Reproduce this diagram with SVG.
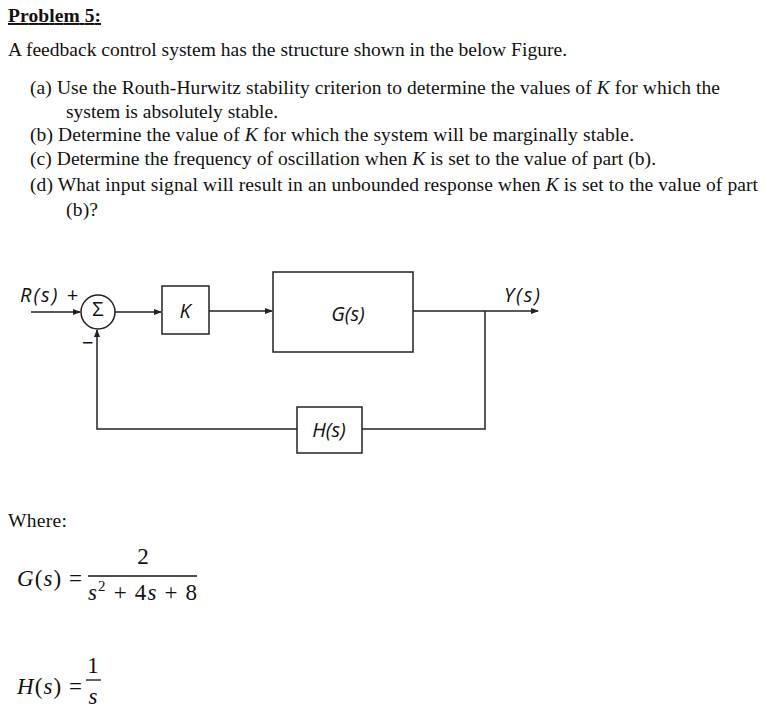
<svg xmlns="http://www.w3.org/2000/svg" width="765" height="709" viewBox="0 0 765 709">
<style>
.t{font-family:"Liberation Serif",serif;font-size:19.5px;fill:#111}
.d{font-family:"Open Sans","Liberation Sans",sans-serif;font-size:20px;fill:#111}
.m{font-family:"Liberation Serif",serif;font-size:23px;fill:#111}
.b{fill:#fff;stroke:#222;stroke-width:1.5}
.l{fill:none;stroke:#222;stroke-width:1.5}
</style>
<defs><marker id="a" markerWidth="8" markerHeight="6" refX="7" refY="3" orient="auto" markerUnits="userSpaceOnUse"><path d="M0,0 L8,3 L0,6 z" fill="#222"/></marker></defs>
<rect width="765" height="709" fill="#fff"/>
<text class="t" x="8" y="22" font-weight="bold" text-decoration="underline" textLength="93">Problem 5:</text>
<text class="t" x="8" y="56" textLength="559">A feedback control system has the structure shown in the below Figure.</text>
<text class="t" x="30" y="94" textLength="690">(a) Use the Routh-Hurwitz stability criterion to determine the values of <tspan font-style="italic">K</tspan> for which the</text>
<text class="t" x="66" y="118" textLength="212">system is absolutely stable.</text>
<text class="t" x="30" y="141" textLength="604">(b) Determine the value of <tspan font-style="italic">K</tspan> for which the system will be marginally stable.</text>
<text class="t" x="30" y="165" textLength="626">(c) Determine the frequency of oscillation when <tspan font-style="italic">K</tspan> is set to the value of part (b).</text>
<text class="t" x="30" y="191" textLength="728">(d) What input signal will result in an unbounded response when <tspan font-style="italic">K</tspan> is set to the value of part</text>
<text class="t" x="66" y="216" textLength="32">(b)?</text>
<g id="connectors">
<line class="l" x1="31" y1="312" x2="80" y2="312" marker-end="url(#a)"/>
<line class="l" x1="115" y1="312" x2="161" y2="312" marker-end="url(#a)"/>
<line class="l" x1="209" y1="311" x2="272" y2="311" marker-end="url(#a)"/>
<line class="l" x1="413" y1="311" x2="538" y2="311" marker-end="url(#a)"/>
<polyline class="l" points="485,311 485,429 362,429"/>
<polyline class="l" points="297,429 97,429 97,330" marker-end="url(#a)"/>
</g>
<g id="sum"><circle class="b" cx="98" cy="312" r="17"/><text class="d" x="98" y="316" font-size="10" text-anchor="middle">Σ</text></g>
<g id="K"><rect class="b" x="162" y="286" width="47" height="48"/><text class="d" x="185" y="318" text-anchor="middle" font-style="italic">K</text></g>
<g id="G"><rect class="b" x="273" y="272" width="140" height="80"/><text class="d" x="348" y="321" text-anchor="middle" font-size="23" font-style="italic">G(s)</text></g>
<g id="H"><rect class="b" x="297" y="407" width="65" height="46"/><text class="d" x="329" y="437" text-anchor="middle" font-style="italic">H(s)</text></g>
<text class="d" x="20" y="302" font-style="italic" textLength="58">R(s) +</text>
<text class="d" x="82" y="350">−</text>
<text class="d" x="504" y="302" font-style="italic" textLength="36">Y(s)</text>
<text class="t" x="8" y="527" textLength="59">Where:</text>
<text class="m" x="17" y="586" textLength="65"><tspan font-style="italic">G</tspan>(<tspan font-style="italic">s</tspan>) =</text>
<text class="m" x="143" y="564" text-anchor="middle">2</text>
<line x1="88" y1="576" x2="197" y2="576" stroke="#111" stroke-width="1.3"/>
<text class="m" x="88" y="600" textLength="109"><tspan font-style="italic">s</tspan><tspan font-size="15" dy="-9">2</tspan><tspan dy="9"> + 4</tspan><tspan font-style="italic">s</tspan> + 8</text>
<text class="m" x="17" y="694" textLength="65"><tspan font-style="italic">H</tspan>(<tspan font-style="italic">s</tspan>) =</text>
<text class="m" x="93" y="673" text-anchor="middle">1</text>
<line x1="86" y1="680" x2="101" y2="680" stroke="#111" stroke-width="1.3"/>
<text class="m" x="93" y="704" text-anchor="middle" font-style="italic">s</text>
</svg>
